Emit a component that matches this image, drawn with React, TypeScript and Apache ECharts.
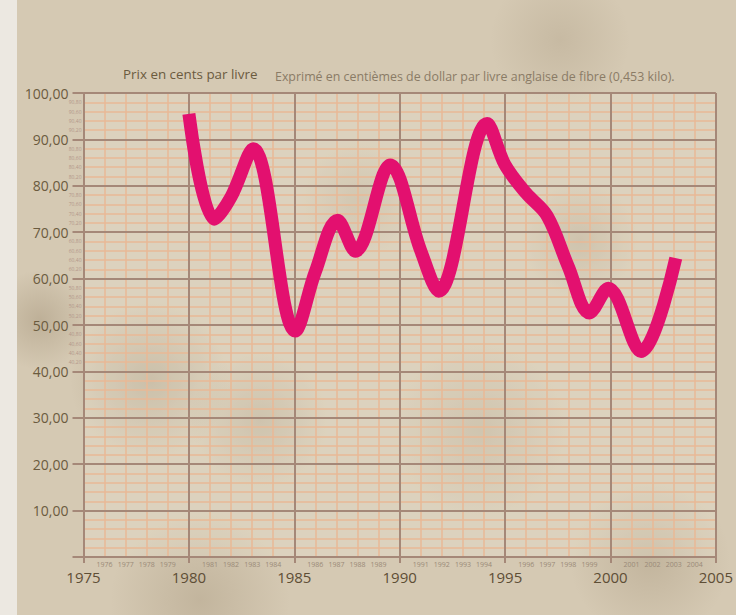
import React, { useEffect, useRef } from "react";
import * as echarts from "echarts";

// Years (x positions, turning points can fall between years)
const years = [1980, 1981.2, 1982, 1983.05, 1985.05, 1986, 1987.05, 1987.9, 1989.55, 1991, 1991.85, 1994.15, 1995, 1996, 1997, 1998, 1999, 1999.9, 2001.45, 2003.1];
// Price in cents per pound
const prices = [95.5, 72.8, 77.6, 88.0, 48.7, 61.5, 72.6, 65.9, 84.5, 66, 57.3, 93.4, 84.5, 78.4, 73.5, 62.6, 52.6, 57.9, 44.3, 64.4];

const titleLeft = "Prix en cents par livre";
const titleRight = "Exprimé en centièmes de dollar par livre anglaise de fibre (0,453 kilo).";

const FONT = "'Open Sans', 'Noto Sans', sans-serif";

const majorY = (v: number) => (v === 0 ? "" : v.toFixed(2).replace(".", ","));
const minorY = (v: number) => {
  if (v < 40 || v % 10 === 0) return "";
  const base = Math.floor(v / 10) * 10;
  return base + "," + (v % 10) * 10;
};
const minorX = (v: number) => (v % 5 === 0 ? "" : String(v));

export default function App() {
  const ref = useRef<HTMLDivElement>(null);
  useEffect(() => {
    if (!ref.current) return;
    const chart = echarts.init(ref.current, null, { renderer: "svg" });
    const spot = (x: number, y: number, r: number, a: number) => ({
      type: "circle",
      shape: { cx: x, cy: y, r },
      silent: true,
      z: -10,
      style: {
        fill: {
          type: "radial", x: 0.5, y: 0.5, r: 0.5,
          colorStops: [
            { offset: 0, color: `rgba(120,100,70,${a})` },
            { offset: 1, color: "rgba(120,100,70,0)" },
          ],
        },
      },
    });
    chart.setOption({
      animation: false,
      backgroundColor: "#d5c9b3",
      graphic: [
        spot(150, 380, 80, 0.25),
        spot(260, 420, 70, 0.2),
        spot(480, 430, 90, 0.18),
        spot(580, 240, 60, 0.2),
        spot(40, 320, 50, 0.25),
        spot(360, 200, 60, 0.15),
        spot(650, 560, 80, 0.2),
        spot(200, 600, 90, 0.2),
        spot(560, 40, 70, 0.15),
        {
          type: "rect", silent: true, z: -5,
          shape: { x: 0, y: 0, width: 17, height: 615 },
          style: { fill: "#ece8e1" },
        },
        {
          type: "text", left: 123, top: 67,
          style: { text: titleLeft, font: `13.4px ${FONT}`, fill: "#6b5b3f" },
        },
        {
          type: "text", left: 275, top: 70,
          style: { text: titleRight, font: `12.4px ${FONT}`, fill: "#8a7b66" },
        },
      ],
      grid: {
        left: 83.5, right: 13, top: 93, bottom: 58,
        show: true, backgroundColor: "rgba(245,238,222,0.25)", borderWidth: 0,
      },
      xAxis: [
        {
          type: "value", min: 1975, max: 2005, interval: 1, z: 1,
          axisLine: { show: true, lineStyle: { color: "#a58878", width: 2 } },
          axisTick: { show: false },
          splitLine: { show: true, lineStyle: { color: "#e8b996", width: 1.5 } },
          axisLabel: {
            formatter: minorX, fontSize: 7, color: "#9a8a78", margin: 4,
            fontFamily: FONT, showMinLabel: true, showMaxLabel: true,
          },
        },
        {
          type: "value", min: 1975, max: 2005, interval: 5, position: "bottom", offset: 0, z: 2,
          axisLine: { show: false },
          axisTick: { show: true, length: 6, inside: false, lineStyle: { color: "#a58878", width: 2 } },
          splitLine: { show: true, lineStyle: { color: "#a58878", width: 2 } },
          axisLabel: {
            formatter: (v: number) => String(v), fontSize: 15, color: "#5e4e36", margin: 12,
            fontFamily: FONT, showMinLabel: true, showMaxLabel: true,
          },
        },
      ],
      yAxis: [
        {
          type: "value", min: 0, max: 100, interval: 2, z: 1,
          axisLine: { show: true, lineStyle: { color: "#a58878", width: 2 } },
          axisTick: { show: false },
          splitLine: { show: true, lineStyle: { color: "#e8b996", width: 1.5 } },
          axisLabel: { formatter: minorY, fontSize: 5, color: "#b3978a", margin: 2, fontFamily: FONT },
        },
        {
          type: "value", min: 0, max: 100, interval: 10, position: "left", offset: 0, z: 2,
          axisLine: { show: false },
          axisTick: { show: true, length: 11, inside: false, lineStyle: { color: "#a58878", width: 2 } },
          splitLine: { show: true, lineStyle: { color: "#a58878", width: 2 } },
          axisLabel: { formatter: majorY, fontSize: 14, color: "#6b5b3f", margin: 15, fontFamily: FONT },
        },
      ],
      series: [
        {
          type: "line",
          xAxisIndex: 0,
          yAxisIndex: 0,
          data: years.map((y, i) => [y, prices[i]]),
          smooth: 0.35,
          showSymbol: false,
          z: 5,
          lineStyle: { color: "#e3106f", width: 13, cap: "butt", join: "round" },
        },
      ],
    });
    return () => chart.dispose();
  }, []);
  return (
    <div
      ref={ref}
      style={{ position: "fixed", left: 0, top: 0, width: 736, height: 615 }}
    />
  );
}
